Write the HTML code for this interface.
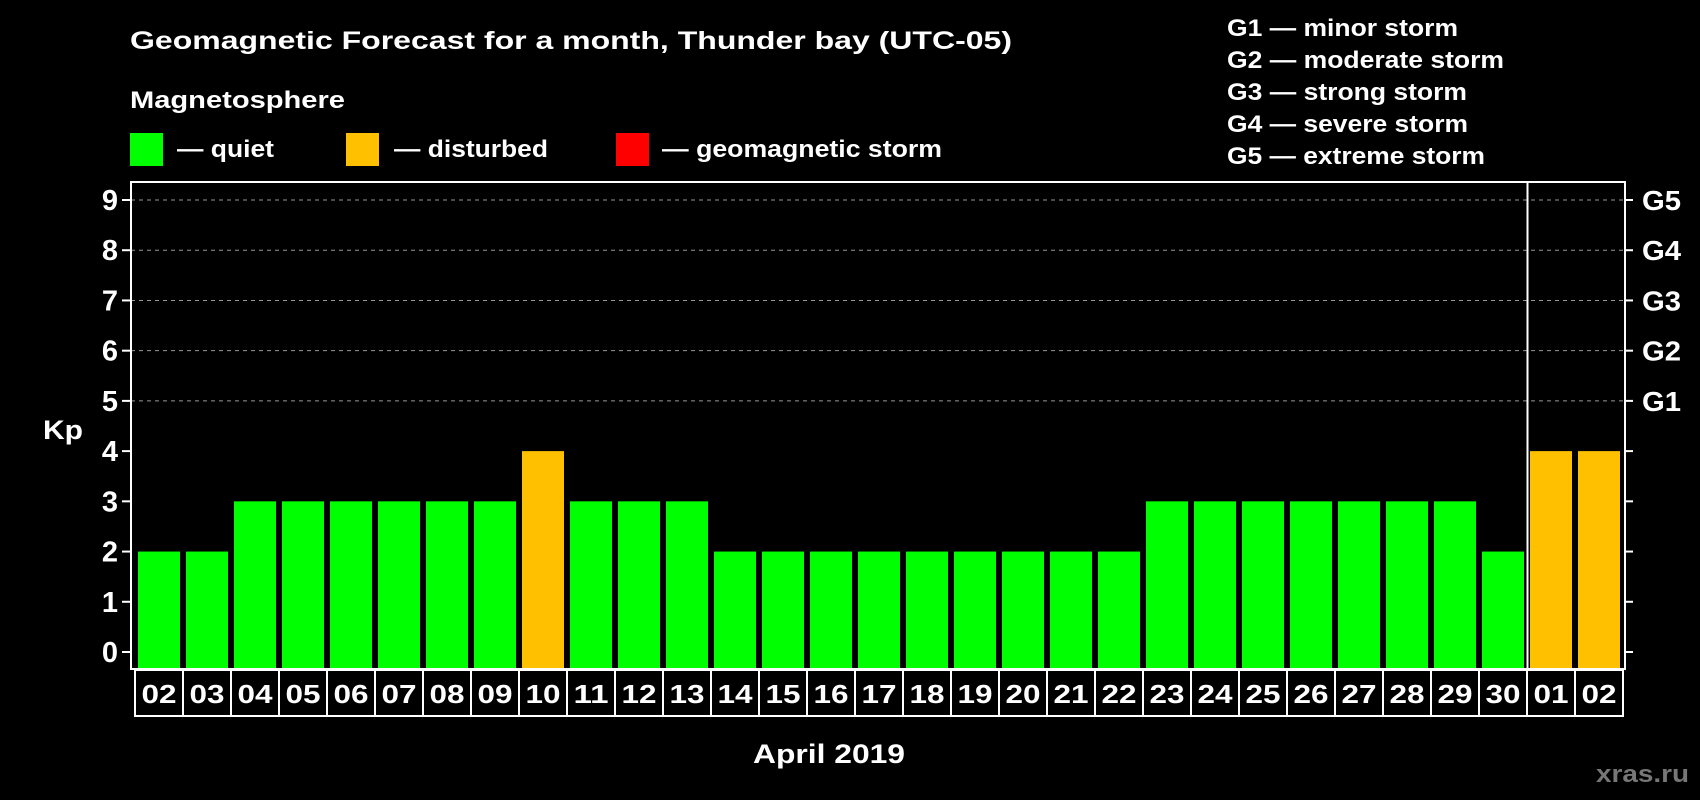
<!DOCTYPE html>
<html><head><meta charset="utf-8"><style>
body{margin:0;background:#000;width:1700px;height:800px;overflow:hidden}
svg{display:block;font-family:"Liberation Sans",sans-serif;font-weight:bold}
</style></head><body>
<svg id="c" width="1700" height="800">
<text x="130" y="49" fill="#fff" font-size="25" textLength="882" lengthAdjust="spacingAndGlyphs">Geomagnetic Forecast for a month, Thunder bay (UTC-05)</text>
<text x="130" y="108" fill="#fff" font-size="24" textLength="215" lengthAdjust="spacingAndGlyphs">Magnetosphere</text>
<rect x="130" y="133" width="33" height="33" fill="#00ff00"/>
<text x="177" y="157" fill="#fff" font-size="24" textLength="97" lengthAdjust="spacingAndGlyphs">— quiet</text>
<rect x="346" y="133" width="33" height="33" fill="#ffc000"/>
<text x="394" y="157" fill="#fff" font-size="24" textLength="154" lengthAdjust="spacingAndGlyphs">— disturbed</text>
<rect x="616" y="133" width="33" height="33" fill="#ff0000"/>
<text x="662" y="157" fill="#fff" font-size="24" textLength="280" lengthAdjust="spacingAndGlyphs">— geomagnetic storm</text>
<g fill="#fff" font-size="24">
<text x="1227" y="36" textLength="231" lengthAdjust="spacingAndGlyphs">G1 — minor storm</text>
<text x="1227" y="68" textLength="277" lengthAdjust="spacingAndGlyphs">G2 — moderate storm</text>
<text x="1227" y="100" textLength="240" lengthAdjust="spacingAndGlyphs">G3 — strong storm</text>
<text x="1227" y="132" textLength="241" lengthAdjust="spacingAndGlyphs">G4 — severe storm</text>
<text x="1227" y="164" textLength="258" lengthAdjust="spacingAndGlyphs">G5 — extreme storm</text>
</g>
<text x="43" y="439" fill="#fff" font-size="27" textLength="40" lengthAdjust="spacingAndGlyphs">Kp</text>
<text x="753" y="763" fill="#fff" font-size="27" textLength="152" lengthAdjust="spacingAndGlyphs">April 2019</text>
<text x="1596" y="782" fill="#777" font-size="24" textLength="93" lengthAdjust="spacingAndGlyphs">xras.ru</text>
<g id="plot"></g>
</svg>
<script>
const days=["02","03","04","05","06","07","08","09","10","11","12","13","14","15","16","17","18","19","20","21","22","23","24","25","26","27","28","29","30","01","02"];
const kp=[2,2,3,3,3,3,3,3,4,3,3,3,2,2,2,2,2,2,2,2,2,3,3,3,3,3,3,3,2,4,4];
const yTicks=[0,1,2,3,4,5,6,7,8,9];
const gLabels=["G1","G2","G3","G4","G5"];
const NS="http://www.w3.org/2000/svg";
const g=document.getElementById('plot');
const L=131,R=1625,T=182,B=669;
const y=v=>652-v*(652-200)/9;
const x=i=>138+i*48;
function mk(t,a){const e=document.createElementNS(NS,t);for(const k in a)e.setAttribute(k,a[k]);g.appendChild(e);return e;}
yTicks.forEach(v=>{
  if(v>=5){const l=mk('line',{x1:L,x2:R,y1:y(v),y2:y(v),stroke:'#999','stroke-dasharray':'4 4','stroke-width':1});
    
    }
  const t1=mk('line',{x1:122,x2:L,y1:y(v),y2:y(v),stroke:'#fff','stroke-width':2});
  
  
  const t2=mk('line',{x1:R,x2:1633,y1:y(v),y2:y(v),stroke:'#fff','stroke-width':2});
  
  
  const tx=mk('text',{x:118,y:y(v)+10,fill:'#fff','font-size':29,'text-anchor':'end'});
  tx.textContent=v;
  
  
});
gLabels.forEach((s,i)=>{
  const tx=mk('text',{x:1642,y:y(i+5)+10,fill:'#fff','font-size':28,textLength:39,lengthAdjust:'spacingAndGlyphs'});
  tx.textContent=s;
  
  
});
kp.forEach((v,i)=>{
  const b=mk('rect',{x:x(i),y:y(v),width:42,height:668-y(v),fill:v>=5?'#ff0000':v>=4?'#ffc000':'#00ff00'});
  
  
  const c=mk('rect',{x:135+i*48,y:670,width:48,height:46,fill:'none',stroke:'#fff','stroke-width':2});
  
  
  const t=mk('text',{x:159+i*48,y:703,fill:'#fff','font-size':26,'text-anchor':'middle',textLength:35,lengthAdjust:'spacingAndGlyphs'});
  t.textContent=days[i];
  
  
});
const fr=mk('rect',{x:L,y:T,width:R-L,height:B-T,fill:'none',stroke:'#fff','stroke-width':2});


const sep=mk('line',{x1:1527.5,x2:1527.5,y1:T,y2:B,stroke:'#fff','stroke-width':2});


</script>
</body></html>
